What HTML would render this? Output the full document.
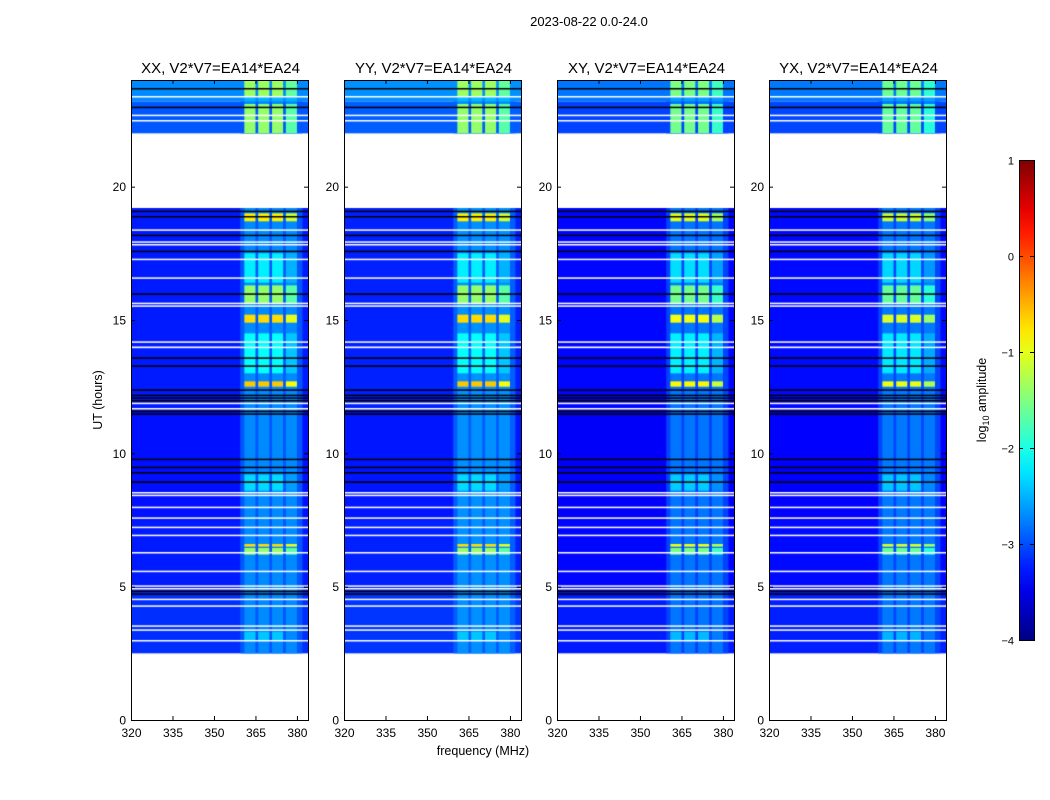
<!DOCTYPE html>
<html><head><meta charset="utf-8"><style>
body{margin:0;background:#fff;width:1050px;height:800px;overflow:hidden;font-family:"Liberation Sans",sans-serif}
canvas{position:absolute}
svg{position:absolute;left:0;top:0}
</style></head><body>
<div id="root"></div>
<svg id="svg" width="1050" height="800"></svg>
<script>
// ---- data ----
const panelTitles=["XX, V2*V7=EA14*EA24","YY, V2*V7=EA14*EA24","XY, V2*V7=EA14*EA24","YX, V2*V7=EA14*EA24"];
const panelOffset=[0,0.03,-0.1,-0.08];
const rfiScale=[1,1,0.9,0.85];
const segStart=[2.5,4.8,7.5,11.7,14.0,22.0,23.2];
const segEnd  =[4.8,7.5,11.7,14.0,19.2,23.2,24.0];
const segLevel=[-3.15,-3.25,-3.3,-3.25,-3.25,-2.95,-2.7];
const subBandLo=[361,366,371,376];
const subBandHi=[365,370,375,380];
const bandLevel=-2.95;
const subLevel=-2.7;
const evStart=[22.0,23.4,18.7,15.6,14.9,12.5,6.5,6.2,13.0,16.4,8.6,3.0];
const evEnd  =[23.1,24.0,19.0,16.3,15.2,12.7,6.6,6.45,14.5,17.5,9.2,3.3];
const evLevel=[-1.4,-1.35,-0.8,-1.4,-0.7,-0.6,-0.7,-1.4,-2.1,-2.2,-2.3,-2.4];
const whiteLines=[3.0,3.4,3.55,4.3,4.55,4.95,5.05,5.6,6.3,6.95,7.25,7.6,8.0,8.45,8.55,11.7,11.9,14.0,14.2,15.55,15.65,16.6,17.3,17.85,17.95,18.4,22.5,22.7,23.4];
const blackLines=[4.75,4.85,8.95,9.3,9.5,9.8,11.5,11.6,12.0,12.1,12.2,12.4,13.3,13.6,16.0,17.6,18.2,18.9,19.1,23.0,23.7];
const xTicks=[320,335,350,365,380];
const yTicks=[0,5,10,15,20];
const cbTicks=[1,0,-1,-2,-3,-4];
// ---- layout ----
const panelX=[131,344,557,769], PT=80, PW=177, PH=640, FMIN=320, FMAX=384, TMAX=24;
const xs=f=>(f-FMIN)/(FMAX-FMIN)*PW;
const ys=t=>(TMAX-t)/TMAX*PH;
function jet(v){
  let x=(v+4)/5; x=Math.max(0,Math.min(1,x));
  const c=t=>Math.max(0,Math.min(1,1.5-Math.abs(4*x-t)));
  return `rgb(${Math.round(255*c(3))},${Math.round(255*c(2))},${Math.round(255*c(1))})`;
}
const NS="http://www.w3.org/2000/svg", svg=document.getElementById('svg');
function T(x,y,s,size,anchor,rot){const t=document.createElementNS(NS,'text');t.setAttribute('x',x);t.setAttribute('y',y);t.setAttribute('font-size',size);t.setAttribute('text-anchor',anchor||'middle');if(rot)t.setAttribute('transform',`rotate(-90 ${x} ${y})`);t.textContent=s;svg.appendChild(t);return t;}
function L(x1,y1,x2,y2){const l=document.createElementNS(NS,'line');l.setAttribute('x1',x1);l.setAttribute('y1',y1);l.setAttribute('x2',x2);l.setAttribute('y2',y2);l.setAttribute('stroke','#000');svg.appendChild(l);return l;}
const root=document.getElementById('root');
panelTitles.forEach((title,p)=>{
  const cv=document.createElement('canvas');cv.width=PW;cv.height=PH;
  cv.style.left=panelX[p]+'px';cv.style.top=PT+'px';
  
  
  root.appendChild(cv);
  const g=cv.getContext('2d');g.fillStyle='#fff';g.fillRect(0,0,PW,PH);
  for(let s=0;s<segStart.length;s++){
    const y0=ys(segEnd[s]),y1=ys(segStart[s]);
    const base=segLevel[s]+panelOffset[p];
    g.fillStyle=jet(base);g.fillRect(0,y0,PW,y1-y0);
    g.fillStyle=jet(Math.max(base,bandLevel+panelOffset[p]));g.fillRect(xs(359.5),y0,xs(382)-xs(359.5),y1-y0);
    for(let b=0;b<subBandLo.length;b++){g.fillStyle=jet(Math.max(base+0.2,subLevel+panelOffset[p]));g.fillRect(xs(subBandLo[b]),y0,xs(subBandHi[b])-xs(subBandLo[b]),y1-y0);}
  }
  for(let e=0;e<evStart.length;e++){
    const y0=ys(evEnd[e]),y1=ys(evStart[e]);
    const lv=-3+(evLevel[e]+3)*rfiScale[p];
    for(let b=0;b<subBandLo.length;b++){g.fillStyle=jet(lv-(b==3?0.3:0));g.fillRect(xs(subBandLo[b]),y0,xs(subBandHi[b])-xs(subBandLo[b]),y1-y0);}
  }
  g.fillStyle='#000';blackLines.forEach(t=>g.fillRect(0,ys(t),PW,1.5));
  g.fillStyle='#fff';whiteLines.forEach(t=>g.fillRect(0,ys(t),PW,1.5));
  const X=panelX[p];
  const r=document.createElementNS(NS,'rect');r.setAttribute('x',X+0.5);r.setAttribute('y',PT+0.5);r.setAttribute('width',PW);r.setAttribute('height',PH);r.setAttribute('fill','none');r.setAttribute('stroke','#000');
  
  
  svg.appendChild(r);
  const tt=T(X+PW/2+1,73,title,15);
  
  
  xTicks.forEach(f=>{const x=X+xs(f)+0.5;L(x,PT+PH,x,PT+PH-4);L(x,PT,x,PT+4);const t=T(x,PT+PH+17,String(f),12);
    
    });
  yTicks.forEach(v=>{const y=PT+ys(v)+0.5;L(X,y,X+4,y);L(X+PW,y,X+PW-4,y);const t=T(X-5,y+4,String(v),12,'end');
    
    });
});
T(589,26,"2023-08-22 0.0-24.0",13);
const yl=T(102,400,"UT (hours)",12.5,'middle',true);

const xl=T(483,755,"frequency (MHz)",12.5);

const CBX=1019,CBY=160,CBW=15,CBH=480;
const defs=document.createElementNS(NS,'defs');const lg=document.createElementNS(NS,'linearGradient');lg.id='jg';lg.setAttribute('x1',0);lg.setAttribute('y1',1);lg.setAttribute('x2',0);lg.setAttribute('y2',0);
for(let i=0;i<=20;i++){const st=document.createElementNS(NS,'stop');st.setAttribute('offset',i/20);st.setAttribute('stop-color',jet(-4+5*i/20));lg.appendChild(st);}
defs.appendChild(lg);svg.appendChild(defs);
const cb=document.createElementNS(NS,'rect');cb.setAttribute('x',CBX+0.5);cb.setAttribute('y',CBY+0.5);cb.setAttribute('width',CBW);cb.setAttribute('height',CBH);cb.setAttribute('fill','url(#jg)');cb.setAttribute('stroke','#000');


svg.appendChild(cb);
cbTicks.forEach(v=>{const y=CBY+(1-v)/5*CBH+0.5;L(CBX,y,CBX+4,y);L(CBX+CBW,y,CBX+CBW-4,y);const t=T(CBX-5,y+4,v<0?'\u2212'+(-v):String(v),11,'end');
  
  });
const cl=document.createElementNS(NS,'text');cl.setAttribute('x',986);cl.setAttribute('y',400);cl.setAttribute('font-size',12.5);cl.setAttribute('text-anchor','middle');cl.setAttribute('transform','rotate(-90 986 400)');
cl.innerHTML='log<tspan font-size="9" dy="3">10</tspan><tspan dy="-3"> amplitude</tspan>';


svg.appendChild(cl);
</script>
</body></html>
